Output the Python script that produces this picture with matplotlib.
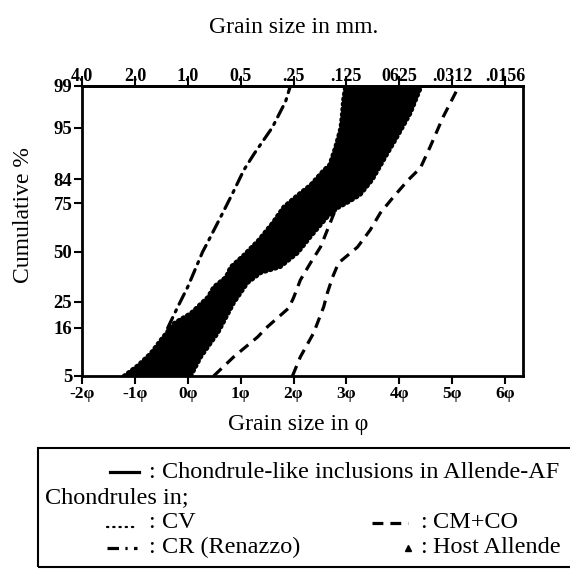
import numpy as np
import matplotlib
matplotlib.use("Agg")
import matplotlib.pyplot as plt
from matplotlib.lines import Line2D
from matplotlib.patches import Rectangle
from statistics import NormalDist

# ---------------- data ----------------
# Chondrule-like inclusions in Allende-AF (black envelope of curves)
band_left_pct = [5.0, 6.7, 9.1, 12.4, 17.5, 20.9, 27.2, 31.9, 36.8, 42.0, 48.4,
                 56.6, 65.5, 73.2, 78.3, 82.0, 86.6, 88.0, 91.9, 95.0, 97.0, 98.2, 99.0]
band_left_phi = [-1.21, -0.94, -0.70, -0.51, -0.26, 0.06, 0.38, 0.49, 0.72, 0.81, 1.06,
                 1.34, 1.60, 1.81, 2.08, 2.32, 2.57, 2.68, 2.79, 2.89, 2.92, 2.94, 2.98]
band_right_pct = [5.0, 8.3, 14.4, 24.6, 33.8, 38.9, 42.0, 49.5, 58.2, 68.5, 72.7,
                  75.4, 78.3, 83.7, 89.9, 93.7, 97.0, 99.0]
band_right_phi = [0.06, 0.25, 0.57, 0.87, 1.13, 1.38, 1.75, 2.08, 2.32, 2.64, 2.83,
                  3.04, 3.26, 3.49, 3.74, 3.96, 4.21, 4.42]

# CM+CO chondrules (two curves)
cmco_a_pct = [5.0, 8.3, 13.2, 16.4, 22.7, 26.8, 35.3, 44.1, 52.7, 61.9, 71.8, 75.0]
cmco_a_phi = [0.49, 0.87, 1.32, 1.51, 1.91, 2.00, 2.13, 2.32, 2.51, 2.64, 2.79, 2.90]
cmco_b_pct = [5.0, 8.3, 14.4, 23.1, 29.0, 36.8, 44.1, 52.7, 61.9, 70.4, 77.5,
              83.7, 87.2, 91.9, 96.6, 99.0]
cmco_b_phi = [1.98, 2.13, 2.38, 2.57, 2.64, 2.74, 2.85, 3.21, 3.45, 3.64, 3.89,
              4.17, 4.40, 4.58, 4.83, 5.13]

# CR (Renazzo) chondrules
cr_pct = [16.0, 23.1, 31.9, 50.0, 55.5, 70.4, 79.0, 86.6, 90.5, 95.1, 98.1, 99.0]
cr_phi = [-0.38, -0.19, 0.00, 0.28, 0.38, 0.66, 0.85, 1.06, 1.25, 1.60, 1.85, 1.94]

# axes ticks
phi_ticks = [-2, -1, 0, 1, 2, 3, 4, 5, 6]
phi_labels = ["-2\u03c6", "-1\u03c6", "0\u03c6", "1\u03c6", "2\u03c6", "3\u03c6", "4\u03c6", "5\u03c6", "6\u03c6"]
mm_labels = ["4.0", "2.0", "1.0", "0.5", ".25", ".125", "0625", ".0312", ".0156"]
pct_ticks = [5, 16, 25, 50, 75, 84, 95, 99]
# relative spacing of the printed probability paper (ruling of the cumulative-% grid)
paper_ruling = [0, 48, 74, 124, 173, 197, 248, 290]

# ---------------- figure ----------------
plt.rcParams["font.family"] = ["Liberation Serif", "DejaVu Serif"]
W, H = 570, 577
fig = plt.figure(figsize=(W / 100, H / 100), dpi=100)

def fx(x):
    return x / W

def fy(y):
    return 1 - y / H

ax = fig.add_axes([fx(82), fy(376), fx(523) - fx(82), (376 - 86) / H])

_nd = NormalDist()
_ppf = np.vectorize(_nd.inv_cdf, otypes=[float])
_cdf = np.vectorize(_nd.cdf, otypes=[float])
_tick_z = _ppf(np.array(pct_ticks, dtype=float) / 100.0)
_rule = np.array(paper_ruling, dtype=float)

def paper_fwd(p):
    p = np.clip(np.asarray(p, dtype=float), 1e-7, 100 - 1e-7) / 100.0
    z = _ppf(p)
    return np.interp(z, _tick_z, _rule)

def paper_inv(v):
    z = np.interp(np.asarray(v, dtype=float), _rule, _tick_z)
    return _cdf(z) * 100.0

ax.set_yscale("function", functions=(paper_fwd, paper_inv))
ax.set_xlim(-2, 6.34)
ax.set_ylim(5, 99)

lw_line = 2.3
# CR dash-dot
ax.plot(cr_phi, cr_pct, color="black", lw=lw_line, dashes=(3.6, 2.0, 0.7, 2.0),
        dash_capstyle="round", zorder=2)
# CM+CO dashed
ax.plot(cmco_a_phi, cmco_a_pct, color="black", lw=lw_line, dashes=(3.4, 2.2), zorder=2)
ax.plot(cmco_b_phi, cmco_b_pct, color="black", lw=lw_line, dashes=(3.4, 2.2), zorder=2)

# black envelope
poly_x = list(band_left_phi) + list(band_right_phi[::-1])
poly_y = list(band_left_pct) + list(band_right_pct[::-1])
ax.fill(poly_x, poly_y, color="black", lw=0, zorder=3)
ax.plot(band_left_phi, band_left_pct, color="black", lw=3.0, ls=(0, (0.35, 0.9)),
        dash_capstyle="round", zorder=3)
ax.plot(band_right_phi, band_right_pct, color="black", lw=3.0, ls=(0, (0.35, 0.9)),
        dash_capstyle="round", zorder=3)

# ticks
ax.set_yticks(pct_ticks)
ax.set_yticklabels([str(v) for v in pct_ticks])
ax.yaxis.set_minor_locator(matplotlib.ticker.NullLocator())
ax.set_xticks(phi_ticks)
ax.set_xticklabels(phi_labels)
ax.tick_params(axis="both", direction="out", length=6, width=1.5, pad=1)
for lab in ax.get_xticklabels():
    lab.set_fontweight("bold")
    lab.set_fontsize(12.5)
for lab in ax.get_yticklabels():
    lab.set_fontweight("bold")
    lab.set_fontsize(13.5)

sec = ax.secondary_xaxis("top")
sec.set_xticks(phi_ticks)
sec.set_xticklabels(mm_labels)
sec.tick_params(direction="out", length=7, width=1.5, pad=-6)
for lab in sec.get_xticklabels():
    lab.set_fontweight("bold")
    lab.set_fontsize(13)
sec.spines["top"].set_linewidth(2)

for s in ax.spines.values():
    s.set_linewidth(2)

# axis titles
fig.text(fx(294), fy(33), "Grain size in mm.", ha="center", va="baseline", fontsize=17)
fig.text(fx(24), fy(215), "Cumulative %", ha="center", va="center", rotation=90, fontsize=17)
fig.text(fx(298), fy(430), "Grain size in \u03c6", ha="center", va="baseline", fontsize=17)

# ---------------- legend (manual box) ----------------
fig.add_artist(Rectangle((fx(38), fy(567)), 2.0, fy(447.5) - fy(567), transform=fig.transFigure,
                         fill=False, lw=1.5, edgecolor="black"))
fs_leg = 17.5

def sample(x0, x1, y, **kw):
    fig.add_artist(Line2D([fx(x0), fx(x1)], [fy(y), fy(y)], transform=fig.transFigure,
                          color="black", **kw))

# row 1
sample(110, 139, 472, lw=2.3)
fig.text(fx(152), fy(478), ":", ha="center", va="baseline", fontsize=fs_leg)
fig.text(fx(162), fy(478), "Chondrule-like inclusions in Allende-AF", ha="left", va="baseline", fontsize=fs_leg)
# row 2
fig.text(fx(45), fy(503), "Chondrules in;", ha="left", va="baseline", fontsize=fs_leg)
# row 3
sample(107, 136, 527, lw=1.6, ls=(0, (0.6, 2.2)), dash_capstyle="round")
fig.text(fx(152), fy(528), ":", ha="center", va="baseline", fontsize=fs_leg)
fig.text(fx(162), fy(528), "CV", ha="left", va="baseline", fontsize=fs_leg)
sample(372, 408, 523, lw=2.3, dashes=(3.4, 2.2))
fig.text(fx(423), fy(528), ":", ha="center", va="baseline", fontsize=fs_leg)
fig.text(fx(433), fy(528), "CM+CO", ha="left", va="baseline", fontsize=fs_leg)
# row 4
sample(107, 137, 548, lw=2.3, dashes=(3.6, 2.0, 0.7, 2.0))
fig.text(fx(152), fy(553), ":", ha="center", va="baseline", fontsize=fs_leg)
fig.text(fx(162), fy(553), "CR (Renazzo)", ha="left", va="baseline", fontsize=fs_leg)
fig.add_artist(Line2D([fx(408)], [fy(548)], transform=fig.transFigure, marker="^",
                      markersize=5, color="black", linestyle="none"))
fig.text(fx(423), fy(553), ":", ha="center", va="baseline", fontsize=fs_leg)
fig.text(fx(433), fy(553), "Host Allende", ha="left", va="baseline", fontsize=fs_leg)

fig.savefig("out.png", dpi=100)
